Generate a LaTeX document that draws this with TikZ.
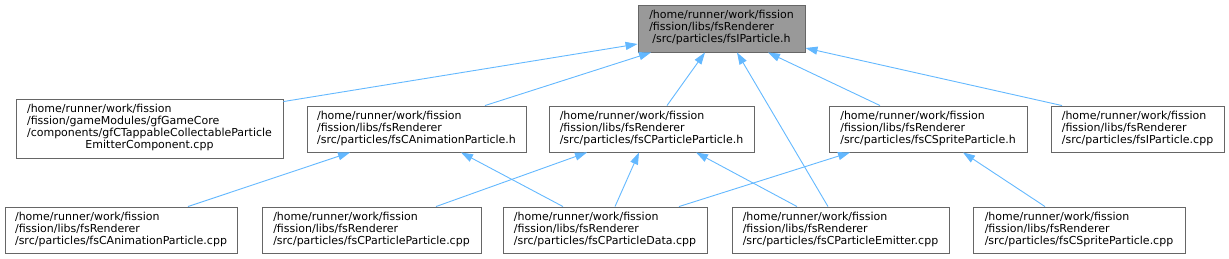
\documentclass[tikz,border=0pt]{standalone}
\usepackage{fontspec}
\setmainfont{DejaVu Sans}
\usetikzlibrary{arrows.meta}
\definecolor{edgeblue}{HTML}{63B8FF}
\definecolor{boxborder}{HTML}{666666}
\definecolor{topfill}{HTML}{999999}
\newcommand{\dxthree}[3]{\begin{tabular}{@{}l@{}}#1\\#2\\\multicolumn{1}{@{}c@{}}{#3}\end{tabular}}
\newcommand{\dxfour}[4]{\begin{tabular}{@{}l@{}}#1\\#2\\#3\\\multicolumn{1}{@{}c@{}}{#4}\end{tabular}}
\tikzset{
  filebox/.style={draw=boxborder, line width=0.9pt, fill=white, inner sep=0pt,
    minimum height=46pt, font=\fontsize{11}{12}\selectfont},
  topbox/.style={filebox, fill=topfill, minimum height=47pt},
  dep/.style={draw=edgeblue, line width=0.9pt, -{Triangle[length=12pt,width=8pt]}, edgeblue}
}
\begin{document}
\begin{tikzpicture}[x=1pt,y=-1pt]
\useasboundingbox (0,0) rectangle (1229,259);
\node[topbox, minimum width=167pt] (top) at (721.5,28.5)
  {\dxthree{/home/runner/work/fission}{/fission/libs/fsRenderer}{/src/particles/fsIParticle.h}};
\node[filebox, minimum width=267pt, minimum height=59pt] (A) at (149.5,128.5)
  {\dxfour{/home/runner/work/fission}{/fission/gameModules/gfGameCore}{/components/gfCTappableCollectableParticle}{EmitterComponent.cpp}};
\node[filebox, minimum width=219pt] (B) at (416.5,129)
  {\dxthree{/home/runner/work/fission}{/fission/libs/fsRenderer}{/src/particles/fsCAnimationParticle.h}};
\node[filebox, minimum width=205pt] (C) at (651.5,129)
  {\dxthree{/home/runner/work/fission}{/fission/libs/fsRenderer}{/src/particles/fsCParticleParticle.h}};
\node[filebox, minimum width=198pt] (D) at (928,129)
  {\dxthree{/home/runner/work/fission}{/fission/libs/fsRenderer}{/src/particles/fsCSpriteParticle.h}};
\node[filebox, minimum width=173pt] (E) at (1137.5,129)
  {\dxthree{/home/runner/work/fission}{/fission/libs/fsRenderer}{/src/particles/fsIParticle.cpp}};
\node[filebox, minimum width=232pt] (F) at (121,230)
  {\dxthree{/home/runner/work/fission}{/fission/libs/fsRenderer}{/src/particles/fsCAnimationParticle.cpp}};
\node[filebox, minimum width=219pt] (G) at (371.5,230)
  {\dxthree{/home/runner/work/fission}{/fission/libs/fsRenderer}{/src/particles/fsCParticleParticle.cpp}};
\node[filebox, minimum width=204pt] (H) at (605,230)
  {\dxthree{/home/runner/work/fission}{/fission/libs/fsRenderer}{/src/particles/fsCParticleData.cpp}};
\node[filebox, minimum width=217pt] (I) at (840.5,230)
  {\dxthree{/home/runner/work/fission}{/fission/libs/fsRenderer}{/src/particles/fsCParticleEmitter.cpp}};
\node[filebox, minimum width=212pt] (J) at (1079,230)
  {\dxthree{/home/runner/work/fission}{/fission/libs/fsRenderer}{/src/particles/fsCSpriteParticle.cpp}};
% edges to top
\draw[dep] ([yshift=-3pt]A.north east) -- ([yshift=-15.5pt]top.west);
\draw[dep] ([xshift=68.5pt]B.north) -- ([xshift=-70.5pt]top.south);
\draw[dep] ([xshift=15.5pt]C.north) -- ([xshift=-16.5pt]top.south);
\draw[dep] ([xshift=-12.5pt]I.north) -- ([xshift=15.5pt]top.south);
\draw[dep] ([xshift=-48pt]D.north) -- ([xshift=46.5pt]top.south);
\draw[dep] ([xshift=-75.5pt]E.north) -- ([yshift=-19.5pt]top.east);
% lower edges
\draw[dep] ([xshift=67pt]F.north) -- ([xshift=-66.5pt]B.south);
\draw[dep] ([xshift=-42pt]H.north) -- ([xshift=44.5pt]B.south);
\draw[dep] ([xshift=64.5pt]G.north) -- ([xshift=-64.5pt]C.south);
\draw[dep] ([xshift=10pt]H.north) -- ([xshift=-12.5pt]C.south);
\draw[dep] ([xshift=-43.5pt]I.north) -- ([xshift=44.5pt]C.south);
\draw[dep] ([xshift=74pt]H.north) -- ([xshift=-78pt]D.south);
\draw[dep] ([xshift=-34pt]J.north) -- ([xshift=35pt]D.south);
\end{tikzpicture}
\end{document}
